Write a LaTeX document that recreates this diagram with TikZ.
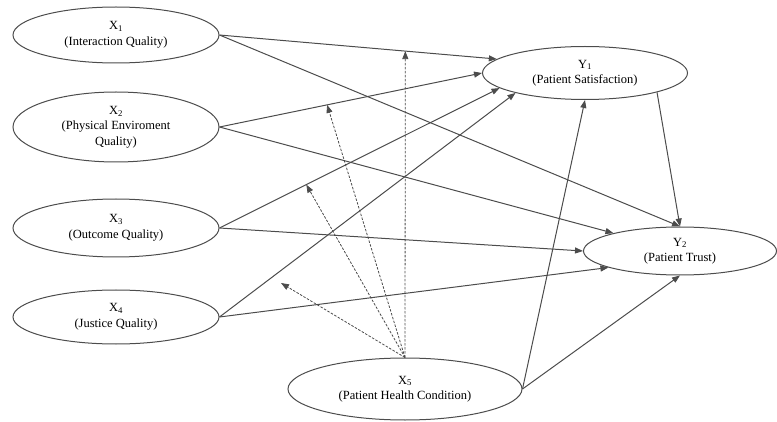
\documentclass[tikz,border=0pt]{standalone}
\usepackage{fontspec}
\setmainfont{Liberation Serif}
\usetikzlibrary{calc, shapes.geometric, arrows.meta}

\begin{document}
\begin{tikzpicture}[x=1pt, y=-1pt,
    latent/.style={draw=black!70, ellipse, line width=1pt, inner sep=0pt, align=center, font=\fontsize{12.5}{15.5}\selectfont},
    effect/.style={-{Triangle[length=8pt, width=6pt]}, line width=1pt, black!70},
    moder/.style={-{Triangle[length=8pt, width=6pt]}, line width=0.8pt, black!70, dash pattern=on 2.5pt off 1.5pt}]
  \useasboundingbox (0,0) rectangle (777,422);
  % exogenous variables
  \node[latent, minimum width=206, minimum height=56] (x1) at (116,35) {X\textsubscript{1}\\(Interaction Quality)};
  \node[latent, minimum width=206, minimum height=70] (x2) at (116,127) {X\textsubscript{2}\\(Physical Enviroment\\Quality)};
  \node[latent, minimum width=206, minimum height=58] (x3) at (116,228) {X\textsubscript{3}\\(Outcome Quality)};
  \node[latent, minimum width=206, minimum height=54] (x4) at (116,317) {X\textsubscript{4}\\(Justice Quality)};
  \node[latent, minimum width=234, minimum height=62] (x5) at (405,389) {X\textsubscript{5}\\(Patient Health Condition)};
  % endogenous variables
  \node[latent, minimum width=205, minimum height=53] (y1) at (585,73) {Y\textsubscript{1}\\(Patient Satisfaction)};
  \node[latent, minimum width=193, minimum height=48] (y2) at (680,251) {Y\textsubscript{2}\\(Patient Trust)};
  % direct effects
  \draw[effect] (x1.east) -- (y1.171);
  \draw[effect] (x1.east) -- (y2.north);
  \draw[effect] (x2.east) -- (y1.west);
  \draw[effect] (x2.east) -- (y2.165);
  \draw[effect] (x3.east) -- (y1.190);
  \draw[effect] (x3.east) -- (y2.west);
  \draw[effect] (x4.east) -- (y1.196);
  \draw[effect] (x4.east) -- (y2.193);
  \draw[effect] (x5.east) -- (y1.south);
  \draw[effect] (x5.east) -- (y2.south);
  \draw[effect] (y1.-15) -- (y2.north);
  % moderating effects of X5
  \coordinate (m1) at ($(x1.east)!0.67!(y1.171)$);
  \coordinate (m2) at ($(x2.east)!0.41!(y1.west)$);
  \coordinate (m3) at ($(x3.east)!0.31!(y1.190)$);
  \coordinate (m4) at (281,283);
  \foreach \m in {m1,m2,m3,m4}{
    \draw[moder] (x5.north) -- (\m);
  }
\end{tikzpicture}
\end{document}
